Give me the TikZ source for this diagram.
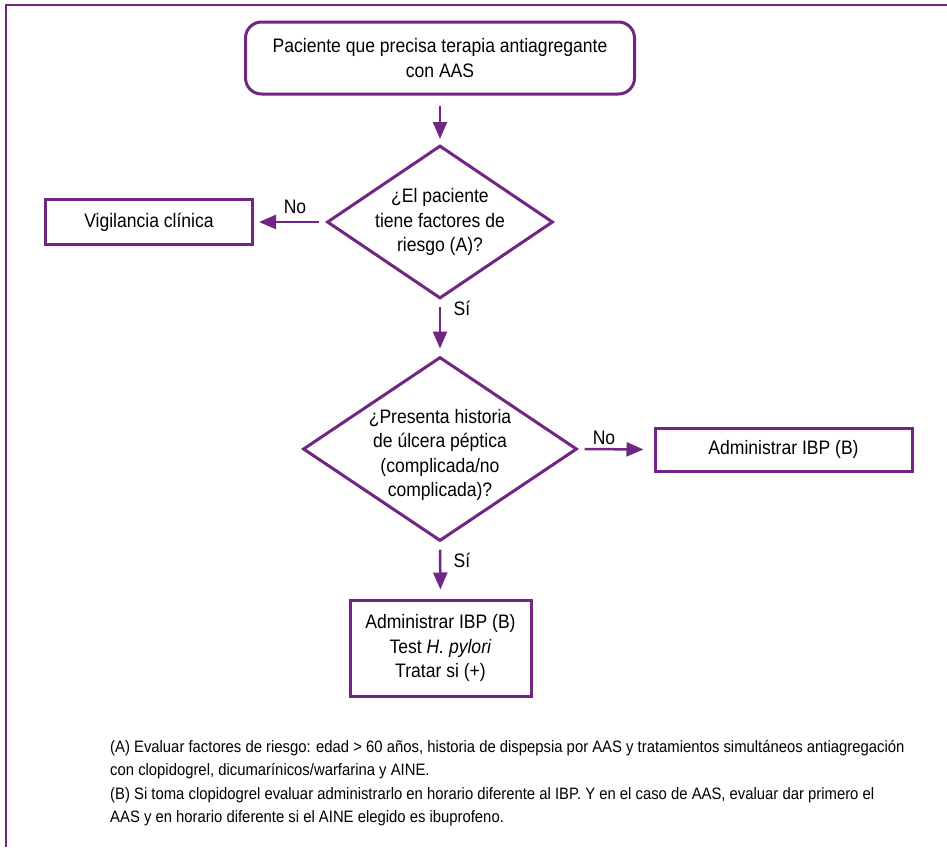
\documentclass[tikz,border=0pt]{standalone}
\usepackage{fontspec}
\setmainfont{Liberation Sans}[FakeStretch=0.9]
\usetikzlibrary{arrows.meta,shapes.geometric}
\definecolor{plum}{RGB}{112,38,130}

\begin{document}
\begin{tikzpicture}[x=1pt,y=-1pt,
  txt/.style={font=\fontsize{19.5}{24.5}\selectfont, align=center, inner sep=0pt},
  stepbox/.style={txt, draw=plum, line width=3pt, rectangle},
  roundbox/.style={stepbox, rounded corners=16pt},
  decision/.style={draw=plum, line width=3pt, diamond, inner sep=0pt},
  flow/.style={draw=plum, line width=2.5pt, -{Triangle[length=17pt,width=14pt]}},
  lbl/.style={txt},
  note/.style={font=\fontsize{16.5}{23.5}\selectfont, align=left, inner sep=0pt}]
\useasboundingbox (0,0) rectangle (947,847);

% page frame (top and left rules)
\draw[plum, line width=2pt] (5.5,847) -- (5.5,4.5) -- (947,4.5);

% nodes
\node[roundbox, minimum width=389pt, minimum height=72pt] (start) at (440,58)
  {Paciente que precisa terapia antiagregante\\con AAS};

\node[decision, minimum width=226pt, minimum height=153pt] (risk) at (440,222) {};
\node[txt] (risktext) at (risk.center)
  {¿El paciente\\tiene factores de\\riesgo (A)?};

\node[stepbox, minimum width=207pt, minimum height=45pt] (watch) at (149,222)
  {Vigilancia clínica};

\node[decision, minimum width=274pt, minimum height=184pt] (ulcer) at (440,449) {};
\node[txt] (ulcertext) at (440,455)
  {¿Presenta historia\\de úlcera péptica\\(complicada/no\\complicada)?};

\node[stepbox, minimum width=257pt, minimum height=43pt] (ibp) at (783.5,449.5)
  {Administrar IBP (B)};
\node[stepbox, minimum width=181pt, minimum height=96pt] (treat) at (440.5,648)
  {Administrar IBP (B)\\Test \textit{H. pylori}\\Tratar si (+)};

% connectors
\draw[flow, shorten <=10pt, shorten >=5pt] (start) -- (risk);
\draw[flow, shorten <=7pt, shorten >=5pt] (risk.west) -- (watch.east);
\draw[flow, shorten <=7pt, shorten >=7pt] (risk.south) -- (ulcer.north);
\draw[flow, shorten <=6pt, shorten >=10pt] (ulcer.east) -- (ibp.west);
\draw[flow, shorten <=7pt, shorten >=9pt] (ulcer.south) -- (treat.north);

% branch labels
\node[lbl] (no1) at (295,207) {No};
\node[lbl] (si1) at (462,308) {Sí};
\node[lbl] (no2) at (604,438) {No};
\node[lbl] (si2) at (462,560) {Sí};

% footnotes
\node[note, anchor=north west] (notes) at (110,740)
  {(A) Evaluar factores de riesgo: edad > 60 años, historia de dispepsia por AAS y tratamientos simultáneos antiagregación\\
   con clopidogrel, dicumarínicos/warfarina y AINE.\\
   (B) Si toma clopidogrel evaluar administrarlo en horario diferente al IBP. Y en el caso de AAS, evaluar dar primero el\\
   AAS y en horario diferente si el AINE elegido es ibuprofeno.};
\end{tikzpicture}
\end{document}
